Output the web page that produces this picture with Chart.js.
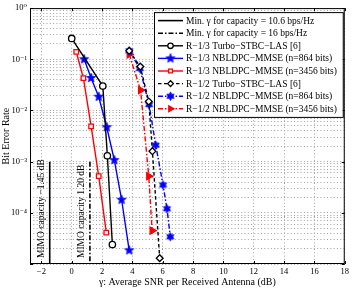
<!DOCTYPE html>
<html lang="en">
<head>
<meta charset="UTF-8">
<title>BER vs SNR</title>
<script src="https://cdn.jsdelivr.net/npm/chart.js"></script>
<style>
  html, body { margin: 0; padding: 0; background: #fff; }
  canvas { display: block; }
</style>
</head>
<body>
<canvas id="myChart" width="352" height="288"></canvas>
<script>
// x ticks (dB) and y decades
const xTicks = [-2, 0, 2, 4, 6, 8, 10, 12, 14, 16, 18];
const yDecades = [-5, -4, -3, -2, -1, 0];

// capacity limits
const capX1 = -1.45;
const capX2 = 1.2;
const capY = [1e-3, 1e-5];

// R-1/3 curves
const turbo13X = [0, 2.05, 2.35, 2.68];
const turbo13Y = [0.255, 0.030, 1.3e-3, 2.4e-5];
const nb864_13X = [0.82, 1.28, 1.78, 2.31, 2.81, 3.29, 3.79];
const nb864_13Y = [0.1, 0.043, 0.0185, 4.7e-3, 1.07e-3, 1.8e-4, 1.85e-5];
const nb3456_13X = [0.30, 0.77, 1.28, 1.78, 2.28];
const nb3456_13Y = [0.139, 0.043, 4.9e-3, 5.2e-4, 4.1e-5];

// R-1/2 curves
const turbo12X = [3.79, 4.52, 5.08, 5.32, 5.80];
const turbo12Y = [0.146, 0.072, 0.015, 1.6e-3, 1.3e-5];
const nb864_12X = [3.79, 4.49, 5.10, 5.54, 6.02, 6.28, 6.50];
const nb864_12Y = [0.146, 0.066, 0.013, 2.1e-3, 3.5e-4, 1.2e-4, 3.4e-5];
const nb3456_12X = [3.79, 4.54, 5.08, 5.30];
const nb3456_12Y = [0.125, 0.025, 5.2e-4, 4.5e-5];

const labels = [
  'Min. \u03b3 for capacity = 10.6 bps/Hz',
  'Min. \u03b3 for capacity = 16 bps/Hz',
  'R\u22121/3 Turbo\u2212STBC\u2212LAS [6]',
  'R\u22121/3 NBLDPC\u2212MMSE (n=864 bits)',
  'R\u22121/3 NBLDPC\u2212MMSE (n=3456 bits)',
  'R\u22121/2 Turbo\u2212STBC\u2212LAS [6]',
  'R\u22121/2 NBLDPC\u2212MMSE (n=864 bits)',
  'R\u22121/2 NBLDPC\u2212MMSE (n=3456 bits)'
];

const FONT = '"Liberation Serif", "DejaVu Serif", serif';
const GRID = '#a0a0a0';
const DOTS = [1, 2.3];

function pts(xs, ys) {
  return xs.map((x, i) => ({ x: x, y: ys[i] }));
}

// filled star marker (n points)
function starImage(n, r, inner, color) {
  const c = document.createElement('canvas');
  const s = Math.ceil(r * 2 + 2);
  c.width = s; c.height = s;
  const g = c.getContext('2d');
  g.translate(s / 2, s / 2);
  g.beginPath();
  for (let i = 0; i < 2 * n; i++) {
    const rr = i % 2 === 0 ? r : r * inner;
    const a = -Math.PI / 2 + i * Math.PI / n;
    g.lineTo(rr * Math.cos(a), rr * Math.sin(a));
  }
  g.closePath();
  g.fillStyle = color;
  g.fill();
  g.strokeStyle = color;
  g.lineWidth = 0.8;
  g.stroke();
  return c;
}

const pentagram = starImage(5, 4.8, 0.42, '#0000ff');
const hexagram = starImage(6, 4.2, 0.58, '#0000ff');

function series(label, xs, ys, color, dash, style, radius, fillCol, extra) {
  return Object.assign({
    label: label,
    data: pts(xs, ys),
    borderColor: color,
    backgroundColor: 'rgba(255,255,255,0)',
    borderWidth: 1.4,
    borderDash: dash,
    pointStyle: style,
    pointRadius: radius,
    pointBorderWidth: 1.3,
    pointBorderColor: color,
    pointBackgroundColor: fillCol,
    tension: 0,
    fill: false
  }, extra || {});
}

const datasets = [
  series(labels[0], [capX1, capX1], capY, '#000', [], false, 0, '#fff', { borderWidth: 1.6 }),
  series(labels[1], [capX2, capX2], capY, '#000', [5, 2, 1.5, 2], false, 0, '#fff', { borderWidth: 1.6 }),
  series(labels[2], turbo13X, turbo13Y, '#000', [], 'circle', 3.2, '#fff'),
  series(labels[3], nb864_13X, nb864_13Y, '#0000ff', [], pentagram, 4.8, '#0000ff'),
  series(labels[4], nb3456_13X, nb3456_13Y, '#ff0000', [], 'rect', 3.2, '#fff'),
  series(labels[5], turbo12X, turbo12Y, '#000', [3.5, 2.5], 'rectRot', 3.4, '#fff'),
  series(labels[6], nb864_12X, nb864_12Y, '#0000ff', [5, 2, 1.5, 2], hexagram, 4.2, '#0000ff'),
  series(labels[7], nb3456_12X, nb3456_12Y, '#ff0000', [5, 2, 1.5, 2], 'triangle', 4, '#ff0000', { pointRotation: 90 })
];

const supers = { '-': '\u207b', '0': '\u2070', '1': '\u00b9', '2': '\u00b2', '3': '\u00b3', '4': '\u2074', '5': '\u2075' };
function powLabel(p) {
  return '10' + String(p).split('').map(ch => supers[ch]).join('');
}

// frame, capacity annotations and in-plot legend
const decorPlugin = {
  id: 'decor',
  afterDatasetsDraw(chart) {
    const ctx = chart.ctx;
    const a = chart.chartArea;
    const xs = chart.scales.x;
    const ys = chart.scales.y;

    ctx.save();
    // box
    ctx.strokeStyle = '#000';
    ctx.lineWidth = 1;
    ctx.setLineDash([]);
    ctx.strokeRect(a.left + 0.5, a.top + 0.5, a.right - a.left - 1, a.bottom - a.top - 1);

    // inward tick marks on all sides
    ctx.beginPath();
    xTicks.forEach(v => {
      const px = Math.round(xs.getPixelForValue(v)) + 0.5;
      ctx.moveTo(px, a.bottom); ctx.lineTo(px, a.bottom - 3);
      ctx.moveTo(px, a.top); ctx.lineTo(px, a.top + 3);
    });
    yDecades.forEach(p => {
      const py = Math.round(ys.getPixelForValue(Math.pow(10, p))) + 0.5;
      ctx.moveTo(a.left, py); ctx.lineTo(a.left + 3, py);
      ctx.moveTo(a.right, py); ctx.lineTo(a.right - 3, py);
    });
    ctx.stroke();

    // rotated capacity labels
    ctx.fillStyle = '#000';
    ctx.font = '9.5px ' + FONT;
    ctx.textBaseline = 'middle';
    ctx.textAlign = 'left';
    [[capX1, 'MIMO capacity \u22121.45 dB'], [capX2, 'MIMO capacity 1.20 dB']].forEach(([v, t]) => {
      const px = xs.getPixelForValue(v) - 8;
      ctx.save();
      ctx.translate(px, a.bottom - 6);
      ctx.rotate(-Math.PI / 2);
      ctx.fillText(t, 0, 0);
      ctx.restore();
    });

    // legend box
    const bx = a.left + 124, by = a.top + 4;
    const bw = a.right - 2 - bx, rowH = 12.6;
    const bh = rowH * datasets.length + 4;
    ctx.fillStyle = '#fff';
    ctx.fillRect(bx, by, bw, bh);
    ctx.strokeStyle = '#000';
    ctx.lineWidth = 1;
    ctx.strokeRect(bx + 0.5, by + 0.5, bw, bh);
    ctx.font = '9.5px ' + FONT;
    ctx.textAlign = 'left';
    ctx.textBaseline = 'middle';
    chart.data.datasets.forEach((ds, i) => {
      const y = by + 8.5 + i * rowH;
      const x0 = bx + 4, x1 = bx + 29;
      ctx.save();
      ctx.strokeStyle = ds.borderColor;
      ctx.lineWidth = ds.borderWidth;
      ctx.setLineDash(ds.borderDash);
      ctx.beginPath();
      ctx.moveTo(x0, y); ctx.lineTo(x1, y);
      ctx.stroke();
      if (ds.pointStyle) {
        ctx.setLineDash([]);
        ctx.strokeStyle = ds.pointBorderColor;
        ctx.fillStyle = ds.pointBackgroundColor;
        ctx.lineWidth = ds.pointBorderWidth;
        Chart.helpers.drawPoint(ctx, {
          pointStyle: ds.pointStyle,
          rotation: ds.pointRotation || 0,
          radius: ds.pointRadius * 0.85,
          borderWidth: ds.pointBorderWidth
        }, (x0 + x1) / 2, y);
      }
      ctx.restore();
      ctx.fillStyle = '#000';
      ctx.fillText(ds.label, x1 + 3, y + 0.5);
    });
    ctx.restore();
  }
};

const config = {
  type: 'line',
  data: { datasets: datasets },
  options: {
    responsive: false,
    animation: false,
    layout: { padding: { top: 8, right: 5, left: 0, bottom: 0 } },
    scales: {
      x: {
        type: 'linear',
        min: -2.75,
        max: 18,
        afterBuildTicks(scale) {
          scale.ticks = xTicks.map(v => ({ value: v }));
        },
        afterFit(scale) { scale.height = 24; },
        grid: {
          color: GRID,
          lineWidth: 1,
          drawTicks: false
        },
        border: { display: false, dash: DOTS },
        ticks: {
          padding: 3,
          color: '#000',
          maxRotation: 0,
          font: { family: FONT, size: 8.5 },
          callback: v => (v < 0 ? '\u2212' + Math.abs(v) : String(v))
        },
        title: {
          display: true,
          text: '\u03b3: Average SNR per Received Antenna (dB)',
          color: '#000',
          font: { family: FONT, size: 10 },
          padding: { top: 0, bottom: 0 }
        }
      },
      y: {
        type: 'logarithmic',
        min: 1e-5,
        max: 1,
        afterBuildTicks(scale) {
          const t = [];
          for (let p = -5; p < 0; p++) {
            for (let m = 1; m < 10; m++) t.push({ value: m * Math.pow(10, p), major: m === 1 });
          }
          t.push({ value: 1, major: true });
          scale.ticks = t;
        },
        afterFit(scale) { scale.width = 30; },
        grid: {
          color: GRID,
          lineWidth: 1,
          drawTicks: false
        },
        border: { display: false, dash: DOTS },
        ticks: {
          padding: 3,
          color: '#000',
          autoSkip: false,
          font: { family: FONT, size: 8.5 },
          callback: function (v) {
            const p = Math.round(Math.log10(v));
            if (Math.abs(v - Math.pow(10, p)) > 1e-12 * Math.pow(10, p)) return '';
            if (p === -5) return '';
            return powLabel(p);
          }
        },
        title: {
          display: true,
          text: 'Bit Error Rate',
          color: '#000',
          font: { family: FONT, size: 10 },
          padding: { top: 0, bottom: 0 }
        }
      }
    },
    plugins: {
      legend: { display: false },
      tooltip: { enabled: false }
    }
  },
  plugins: [decorPlugin]
};

const myChart = new Chart(document.getElementById('myChart'), config);
</script>
</body>
</html>
